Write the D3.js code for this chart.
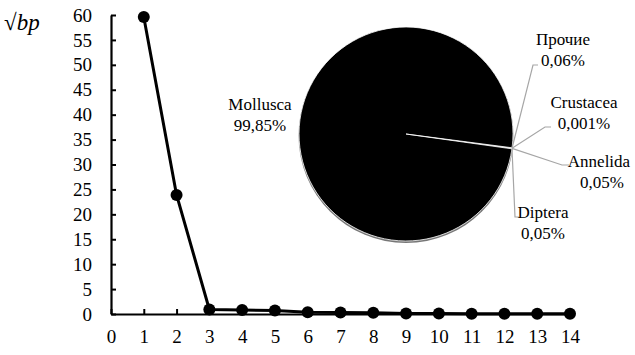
<!DOCTYPE html>
<html><head><meta charset="utf-8">
<script src="https://cdn.jsdelivr.net/npm/d3@7"></script>
<style>body{margin:0;background:#fff}svg{display:block}</style>
</head><body><svg id="c" width="635" height="355" font-family="Liberation Serif"></svg>
<script>
// Line series (sqrt bp by rank)
const xValues = [1,2,3,4,5,6,7,8,9,10,11,12,13,14];
const yValues = [59.6,23.9,0.9,0.8,0.7,0.35,0.3,0.25,0.1,0.08,0.07,0.06,0.05,0.04];
const xTicks = [0,1,2,3,4,5,6,7,8,9,10,11,12,13,14];
const yTicks = [0,5,10,15,20,25,30,35,40,45,50,55,60];
// Pie
const pieLabels = ["Прочие","Crustacea","Annelida","Diptera","Mollusca"];
const pieValues = [0.06,0.001,0.05,0.05,99.85];
const pieTexts = ["0,06%","0,001%","0,05%","0,05%","99,85%"];

const FONT = "Liberation Serif";
const svg = d3.select("#c");
const x = d3.scaleLinear().domain([0,14]).range([111,570]);
const y = d3.scaleLinear().domain([0,60]).range([314,15]);

// axes
const yAxis = d3.axisLeft(y).tickValues(yTicks).tickSizeInner(-5).tickSizeOuter(0).tickPadding(19);
const gy = svg.append("g").attr("transform","translate(111,0)").call(yAxis);
gy.attr("font-family",FONT);
gy.select(".domain").attr("stroke","#000").attr("stroke-width",2.2);
gy.selectAll(".tick line").attr("stroke","#000").attr("stroke-width",2);
gy.selectAll(".tick text").attr("font-size",19).attr("fill","#000").attr("font-family",FONT).style("font-family",FONT);

const xAxis = d3.axisBottom(x).tickValues(xTicks).tickSizeInner(-5).tickSizeOuter(0).tickPadding(16);
const gx = svg.append("g").attr("transform","translate(0,314)").call(xAxis);
gx.attr("font-family",FONT);
gx.select(".domain").attr("stroke","#000").attr("stroke-width",2.2);
gx.selectAll(".tick line").attr("stroke","#000").attr("stroke-width",2);
gx.selectAll(".tick text").attr("font-size",19).attr("fill","#000").attr("font-family",FONT).style("font-family",FONT);

const yl = svg.append("text").attr("x",4).attr("y",30).attr("font-size",23).attr("font-family",FONT).style("font-family",FONT);
yl.append("tspan").text("√");
yl.append("tspan").attr("font-style","italic").text("bp");

// line
const pts = xValues.map((d,i)=>[d,yValues[i]]);
svg.append("path").datum(pts)
  .attr("fill","none").attr("stroke","#000").attr("stroke-width",3).attr("stroke-linejoin","round")
  .attr("d", d3.line().x(d=>x(d[0])).y(d=>y(d[1])));
svg.selectAll("circle.pt").data(pts).enter().append("circle").attr("class","pt")
  .attr("cx",d=>x(d[0])).attr("cy",d=>y(d[1])).attr("r",6).attr("fill","#000");

// pie
const cx = 406, cy = 134, R = 107;
const start = 97.4*Math.PI/180;
const pie = d3.pie().sort(null).startAngle(start).endAngle(start+2*Math.PI);
const arcs = pie(pieValues);
const arc = d3.arc().innerRadius(0).outerRadius(R);
const gp = svg.append("g").attr("transform",`translate(${cx},${cy})`);
gp.append("circle").attr("r",R+0.5).attr("cy",1.5).attr("fill","#777");
gp.selectAll("path").data(arcs).enter().append("path")
  .attr("d",arc).attr("fill","#000").attr("stroke","#fff").attr("stroke-width",0.8);

// label layout (leader elbow, horizontal end, text anchor center, baseline)
const labelLayout = [
  {ex:533, ey:65, hx:538, tx:563, ty:45},
  {ex:545, ey:127, hx:551, tx:584, ty:108},
  {ex:562, ey:165, hx:569, tx:599, ty:167},
  {ex:515, ey:217, hx:519, tx:543, ty:218},
  {tx:260, ty:110}
];
arcs.forEach((a,i)=>{
  const L = labelLayout[i];
  const m = (a.startAngle+a.endAngle)/2;
  if (i < 4) {
    const px = cx + R*Math.sin(m), py = cy - R*Math.cos(m);
    svg.append("polyline").attr("points",`${px},${py} ${L.ex},${L.ey} ${L.hx},${L.ey}`)
      .attr("fill","none").attr("stroke","#a6a6a6").attr("stroke-width",1.2);
  }
  const t = svg.append("text").attr("text-anchor","middle").attr("font-size",17)
    .attr("font-family",FONT).style("font-family",FONT);
  t.append("tspan").attr("x",L.tx).attr("y",L.ty).text(pieLabels[i]);
  t.append("tspan").attr("x",L.tx+(i===2?3:0)).attr("y",L.ty+21).text(pieTexts[i]);
});
</script></body></html>
